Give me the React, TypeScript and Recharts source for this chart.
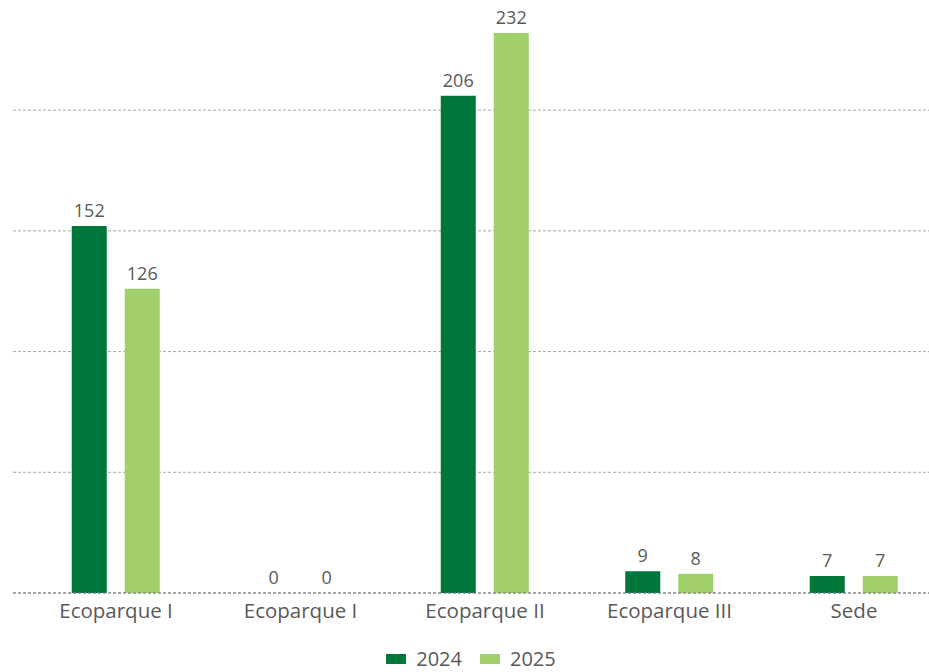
import { BarChart, Bar, XAxis, YAxis, CartesianGrid, Legend, LabelList } from "recharts";

const sites = ["Ecoparque I", "Ecoparque I", "Ecoparque II", "Ecoparque III", "Sede"];
const values2024 = [152, 0, 206, 9, 7];
const values2025 = [126, 0, 232, 8, 7];
const yTicks = [0, 50, 100, 150, 200];

const DARK = "#00773A";
const LIGHT = "#A1CF6B";
const TEXT = "#595959";
const FONT = "'Open Sans', sans-serif";

const data = sites.map((site, i) => ({
  site,
  y2024: values2024[i],
  y2025: values2025[i],
}));

// value above each bar, drawn even when the bar has no height
function ValueLabel(props: any) {
  const { x, y, width, value } = props;
  if (value === undefined || value === null) return null;
  return (
    <text
      x={Number(x) + Number(width) / 2}
      y={Number(y) - 9}
      textAnchor="middle"
      fill={TEXT}
      fontSize={18}
      fontFamily={FONT}
    >
      {String(value)}
    </text>
  );
}

function LegendBox() {
  const items = [
    { label: "2024", color: DARK },
    { label: "2025", color: LIGHT },
  ];
  return (
    <div
      style={{
        display: "flex",
        justifyContent: "center",
        gap: 18,
        fontFamily: FONT,
        paddingTop: 9,
        marginLeft: -28,
      }}
    >
      {items.map((it) => (
        <div key={it.label} style={{ display: "flex", alignItems: "center", gap: 10 }}>
          <span style={{ width: 20, height: 10, background: it.color, display: "inline-block" }} />
          <span style={{ fontSize: 20, color: TEXT, lineHeight: "24px" }}>{it.label}</span>
        </div>
      ))}
    </div>
  );
}

export default function App() {
  return (
    <div
      style={{
        position: "absolute",
        left: 0,
        top: 0,
        width: 929,
        height: 672,
        overflow: "hidden",
        background: "#fff",
      }}
    >
      <BarChart
        width={957}
        height={672}
        data={data}
        margin={{ top: 13.6, right: 0, bottom: 0, left: 13 }}
        barSize={35}
        barGap={18}
      >
        <CartesianGrid
          vertical={false}
          horizontalValues={yTicks}
          stroke="#a6a6a6"
          strokeDasharray="3 2"
        />
        <XAxis
          dataKey="site"
          padding={{ left: 10.75, right: 10.75 }}
          axisLine={{ stroke: "#7a7a7a", strokeDasharray: "3 2" }}
          tickLine={false}
          tickMargin={4}
          height={45}
          tick={{ fontSize: 20.5, fill: TEXT, fontFamily: FONT }}
        />
        <YAxis hide domain={[0, 240]} ticks={yTicks} />
        <Legend verticalAlign="bottom" height={34} content={<LegendBox />} />
        <Bar dataKey="y2024" fill={DARK} minPointSize={0.01} isAnimationActive={false}>
          <LabelList dataKey="y2024" content={<ValueLabel />} />
        </Bar>
        <Bar dataKey="y2025" fill={LIGHT} minPointSize={0.01} isAnimationActive={false}>
          <LabelList dataKey="y2025" content={<ValueLabel />} />
        </Bar>
      </BarChart>
    </div>
  );
}
